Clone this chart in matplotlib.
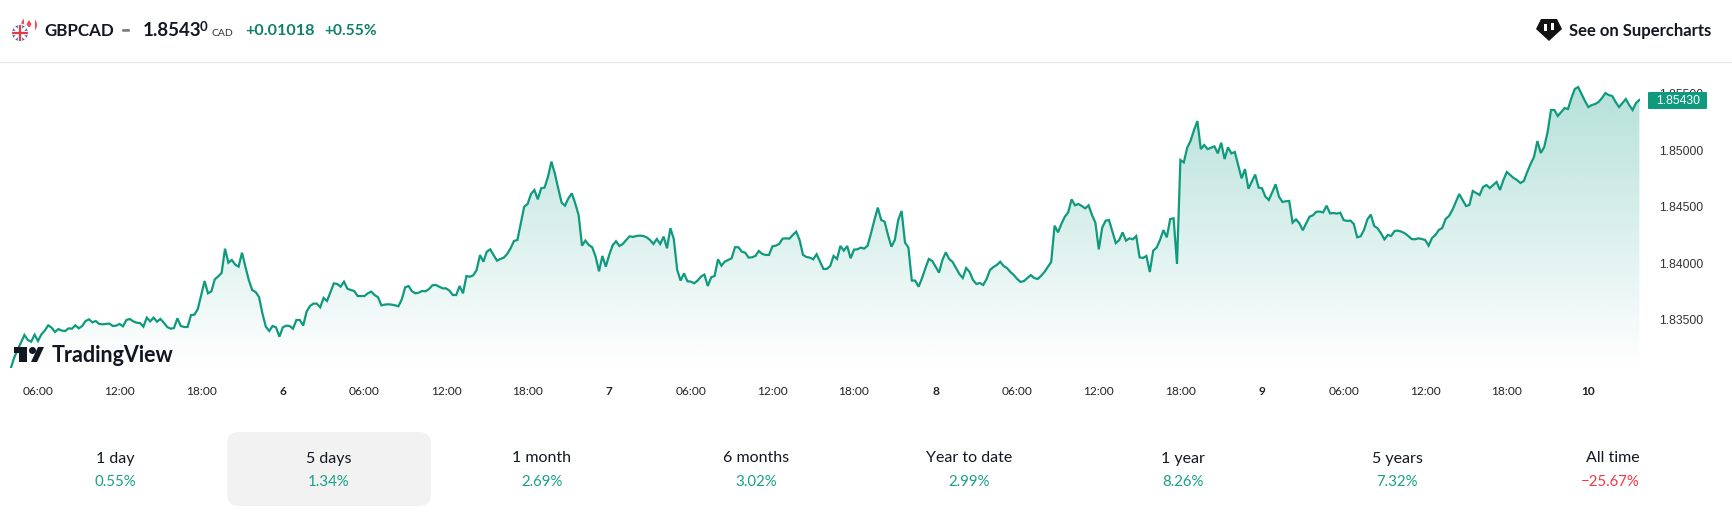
import numpy as np
import matplotlib
matplotlib.use("Agg")
import matplotlib.pyplot as plt
from matplotlib.patches import Rectangle, Circle, Polygon, FancyBboxPatch
from matplotlib.transforms import ScaledTranslation

W, H = 1732, 519
START_HOUR = 4.0
STEP_HOURS = 0.25

prices = [
 1.83054,1.83150,1.83216,1.83280,1.83349,1.83305,1.83290,1.83352,1.83296,1.83355,1.83388,1.83435,
 1.83414,1.83376,1.83402,1.83388,1.83385,1.83408,1.83405,1.83435,1.83408,1.83429,1.83473,1.83488,
 1.83461,1.83473,1.83447,1.83444,1.83447,1.83450,1.83429,1.83432,1.83447,1.83426,1.83482,1.83491,
 1.83470,1.83458,1.83455,1.83423,1.83503,1.83470,1.83503,1.83467,1.83491,1.83458,1.83420,1.83405,
 1.83411,1.83497,1.83429,1.83420,1.83420,1.83526,1.83529,1.83579,1.83703,1.83827,1.83718,1.83736,
 1.83842,1.83868,1.83898,1.84113,1.83989,1.84013,1.83972,1.83954,1.84078,1.83954,1.83836,1.83747,
 1.83730,1.83686,1.83541,1.83423,1.83385,1.83429,1.83417,1.83334,1.83417,1.83432,1.83429,1.83405,
 1.83482,1.83482,1.83432,1.83556,1.83606,1.83627,1.83627,1.83594,1.83677,1.83650,1.83727,1.83806,
 1.83801,1.83777,1.83821,1.83759,1.83747,1.83739,1.83694,1.83694,1.83694,1.83718,1.83733,1.83703,
 1.83683,1.83612,1.83618,1.83621,1.83618,1.83612,1.83603,1.83665,1.83771,1.83783,1.83736,1.83718,
 1.83724,1.83739,1.83736,1.83756,1.83789,1.83792,1.83777,1.83762,1.83762,1.83742,1.83703,1.83703,
 1.83783,1.83718,1.83871,1.83865,1.83877,1.83924,1.84057,1.83998,1.84087,1.84107,1.84057,1.84007,
 1.84022,
 1.84034,1.84067,1.84117,1.84182,1.84190,1.84338,1.84485,1.84509,1.84598,1.84633,1.84550,1.84648,
 1.84654,1.84751,1.84884,1.84780,1.84648,1.84521,1.84494,1.84559,1.84603,1.84515,1.84412,1.84140,
 1.84185,1.84146,1.84126,1.84043,1.83913,1.84049,1.83954,1.84058,1.84143,1.84179,1.84137,1.84155,
 1.84190,1.84223,1.84217,1.84226,1.84229,1.84226,1.84214,1.84190,1.84155,1.84199,1.84155,1.84220,
 1.84117,1.84294,1.84199,1.83925,1.83831,1.83895,1.83825,1.83822,1.83807,1.83831,1.83866,1.83884,
 1.83783,1.83860,1.83872,1.84019,1.83963,1.83999,1.84013,1.84028,1.84126,1.84126,1.84087,1.84078,
 1.84034,1.84037,1.84049,1.84093,1.84067,1.84058,1.84058,1.84134,1.84140,1.84155,1.84202,1.84205,
 1.84202,1.84235,1.84264,1.84190,1.84058,1.84040,1.84034,1.84019,1.84064,1.83999,1.83934,1.83934,
 1.83960,1.84049,1.84022,1.84137,1.84096,1.84137,1.84028,1.84105,1.84108,1.84123,1.84114,1.84140,
 1.84249,1.84367,1.84477,1.84367,1.84353,1.84235,1.84131,1.84190,1.84367,1.84447,1.84167,1.84123,
 1.83831,1.83831,1.83777,1.83851,1.83940,1.84022,1.84005,1.83954,1.83901,1.84013,1.84081,1.84022,
 1.83996,1.83942,1.83889,1.83854,1.83942,1.83907,1.83836,1.83801,1.83810,1.83792,1.83845,1.83925,
 1.83951,1.83969,1.83998,1.83960,1.83942,1.83907,1.83880,1.83845,1.83819,1.83827,1.83854,1.83880,
 1.83854,1.83845,1.83872,1.83907,1.83951,1.83996,
 1.84317,1.84258,1.84332,1.84396,1.84435,1.84550,1.84497,1.84509,1.84491,1.84470,1.84497,1.84411,
 1.84343,1.84107,1.84299,1.84361,1.84367,1.84264,1.84163,1.84190,1.84258,1.84184,1.84205,1.84196,
 1.84225,1.84037,1.84031,1.84049,1.83907,1.84096,1.84122,1.84190,1.84278,1.84214,1.84376,1.84382,
 1.83978,1.84898,1.84877,1.85007,1.85069,1.85163,1.85243,1.84995,1.85031,1.84995,1.85007,1.85019,
 1.84957,1.85051,1.84907,1.85010,1.84957,1.84969,1.84854,1.84736,1.84818,1.84644,
 1.84707,1.84769,1.84654,1.84648,1.84574,1.84544,1.84612,1.84683,1.84574,1.84527,1.84533,1.84536,
 1.84344,1.84373,1.84338,1.84276,1.84338,1.84397,1.84409,1.84441,1.84441,1.84435,1.84494,1.84426,
 1.84429,1.84424,1.84432,1.84367,1.84359,1.84362,1.84332,1.84214,1.84223,1.84279,1.84373,1.84415,
 1.84314,1.84294,1.84249,1.84196,1.84235,1.84226,1.84270,1.84273,1.84264,1.84249,1.84226,1.84199,
 1.84196,1.84205,1.84199,1.84190,1.84140,1.84208,1.84234,1.84279,1.84296,1.84376,1.84403,1.84456,
 1.84527,1.84597,1.84544,1.84491,1.84500,1.84624,1.84606,1.84588,1.84659,1.84677,1.84650,1.84677,
 1.84704,1.84633,1.84721,1.84792,1.84765,1.84739,1.84721,1.84695,1.84712,1.84792,1.84863,1.84925,
 1.85066,1.84960,1.85013,1.85146,1.85341,1.85341,1.85288,1.85323,1.85358,1.85350,1.85447,1.85527,
 1.85544,1.85482,1.85420,1.85367,1.85385,1.85394,1.85412,1.85447,1.85491,1.85473,1.85465,1.85412,
 1.85367,1.85403,1.85438,1.85385,1.85341,1.85403,1.85430,
]
time_tick_hours = [6,12,18,24,30,36,42,48,54,60,66,72,78,84,90,96,102,108,114,120]
time_tick_labels = ["06:00","12:00","18:00","6","06:00","12:00","18:00","7","06:00","12:00",
                    "18:00","8","06:00","12:00","18:00","9","06:00","12:00","18:00","10"]
price_ticks = [1.835, 1.84, 1.845, 1.85, 1.855]
symbol = "GBPCAD"
last_main, last_tail = "1.8543", "0"
change_abs, change_pct = "+0.01018", "+0.55%"
period_names = ["1 day","5 days","1 month","6 months","Year to date","1 year","5 years","All time"]
period_returns = ["0.55%","1.34%","2.69%","3.02%","2.99%","8.26%","7.32%","\u221225.67%"]

UI = ["Lato", "DejaVu Sans"]
GREEN = "#0f9a7d"
HDR_GREEN = "#11806a"
plt.rcParams["font.family"] = UI

hours = START_HOUR + STEP_HOURS * np.arange(len(prices))
prices_arr = np.array(prices)

fig = plt.figure(figsize=(W/100, H/100), dpi=100, facecolor="white")
TOP, BOT, RIGHT = 63, 368, 1640
ax = fig.add_axes([0, (H-BOT)/H, RIGHT/W, (BOT-TOP)/H])
ymin, ymax = 1.83057, 1.85757
xmin, xmax = 3.206, 123.794

poly = ax.fill_between(hours, prices_arr, ymin, color="none", lw=0)
n = 256
grad = np.zeros((n, 1, 4))
grad[..., :3] = matplotlib.colors.to_rgb("#089981")
frac = np.linspace(0, 1, n)
grad[:, 0, 3] = 0.30 * (1 - frac)
im = ax.imshow(grad, extent=(xmin, xmax, ymin, 1.8555), origin="upper", aspect="auto", zorder=1)
im.set_clip_path(poly.get_paths()[0], transform=ax.transData)
ax.plot(hours, prices_arr, color=GREEN, lw=1.6, zorder=2, solid_joinstyle="miter")
ax.set_xlim(xmin, xmax)
ax.set_ylim(ymin, ymax)
for s in ax.spines.values():
    s.set_visible(False)
ax.set_xticks(time_tick_hours)
ax.set_xticklabels(time_tick_labels, fontsize=8.6, color="#222222", fontfamily=UI)
for lab, txt in zip(ax.get_xticklabels(), time_tick_labels):
    if ":" not in txt:
        lab.set_fontweight("bold")
ax.tick_params(axis="x", length=0, pad=13)
ax.yaxis.tick_right()
ax.set_yticks(price_ticks)
ax.set_yticklabels([f"{v:.5f}" for v in price_ticks], fontsize=8.7, color="#333333",
                   fontfamily=["Liberation Sans"])
ax.tick_params(axis="y", length=0, pad=13.5)
shift = ScaledTranslation(0, -1.8/100, fig.dpi_scale_trans)
for lab in ax.get_yticklabels():
    lab.set_transform(lab.get_transform() + shift)
ax.patch.set_alpha(0)

# overlay in pixel space for page chrome
ov = fig.add_axes([0, 0, 1, 1], zorder=5)
ov.set_xlim(0, W); ov.set_ylim(H, 0); ov.axis("off"); ov.patch.set_alpha(0)
ov.plot([0, W], [62, 62], color="#e9e9ea", lw=0.8)

# flags
ov.add_patch(Circle((29, 25), 8, fc="#ef4a55", ec="none"))
ov.add_patch(Rectangle((23.5, 17), 11, 16, fc="white", ec="none"))
ov.add_patch(Polygon([[29,20],[31.5,24],[30,27],[28,27],[26.5,24]], fc="#ef4a55", ec="none"))
ov.add_patch(Circle((20, 33), 9.5, fc="white", ec="none"))
c = Circle((20, 33), 8, fc="#4a5fa5", ec="none"); ov.add_patch(c)
for xs, ys, col, lw in [([12,28],[25,41],"white",2.2),([12,28],[41,25],"white",2.2),
                        ([12,28],[33,33],"white",3.2),([20,20],[25,41],"white",3.2),
                        ([12,28],[33,33],"#e2394a",1.6),([20,20],[25,41],"#e2394a",1.6)]:
    l, = ov.plot(xs, ys, color=col, lw=lw, solid_capstyle="butt"); l.set_clip_path(c)

BOLD = dict(fontweight="bold", va="center", color="#131722", family=UI)
ov.text(44, 31, symbol, fontsize=12.2, **BOLD)
ov.add_patch(FancyBboxPatch((122, 29), 8, 2.8, boxstyle="round,pad=0,rounding_size=1.2", fc="#808080", ec="none"))
ov.text(143, 31, last_main, fontsize=13.5, **BOLD)
ov.text(200, 27, last_tail, fontsize=9.5, fontweight="bold", va="center", color="#131722")
ov.text(211, 33, "CAD", fontsize=7.5, va="center", color="#333333")
ov.text(245, 31, change_abs, fontsize=11.6, fontweight="bold", va="center", color=HDR_GREEN)
ov.text(324, 31, change_pct, fontsize=11.2, fontweight="bold", va="center", color=HDR_GREEN)

# supercharts badge
ov.add_patch(Polygon([[1541,19],[1557,19],[1562,29],[1549,41],[1536,29]], fc="#111111", ec="none"))
ov.add_patch(Rectangle((1544, 24), 3, 7, fc="white", ec="none"))
ov.add_patch(Rectangle((1551, 23), 3, 7, fc="white", ec="none"))
ov.text(1569, 31, "See on Supercharts", fontsize=12, **BOLD)

# last price tag
ov.add_patch(FancyBboxPatch((1648, 92), 59, 17, boxstyle="round,pad=0,rounding_size=1", fc="#0f9a7d", ec="none"))
ov.text(1678, 101, f"{prices[-1]:.5f}", fontsize=8.7, color="white", ha="center", va="center",
        family=["Liberation Sans"])

# TradingView logo
ov.add_patch(Polygon([[14,347],[27,347],[27,362],[19,362],[19,353],[14,353]], fc="#131722", ec="none"))
ov.add_patch(Circle((32.5, 350.5), 3.5, fc="#131722", ec="none"))
ov.add_patch(Polygon([[31,362],[38,347],[44,347],[37,362]], fc="#131722", ec="none"))
ov.text(52, 355, "TradingView", fontsize=15.5, fontweight="bold", va="center", color="#131722", family=UI)

# period strip
ov.add_patch(FancyBboxPatch((227, 432), 204, 74, boxstyle="round,pad=0,rounding_size=12", fc="#f2f2f2", ec="none"))
cx = [115, 329, 542, 756, 969, 1183, 1397, 1640]
for i, (x, nm, rt) in enumerate(zip(cx, period_names, period_returns)):
    ha = "right" if i == len(cx)-1 else "center"
    col = "#f23645" if rt.startswith("\u2212") else "#18a087"
    ov.text(x, 458.5, nm, fontsize=11.5, color="#131722", ha=ha, va="center")
    ov.text(x, 482, rt, fontsize=10.8, color=col, ha=ha, va="center")

fig.savefig("out.png", dpi=100)
